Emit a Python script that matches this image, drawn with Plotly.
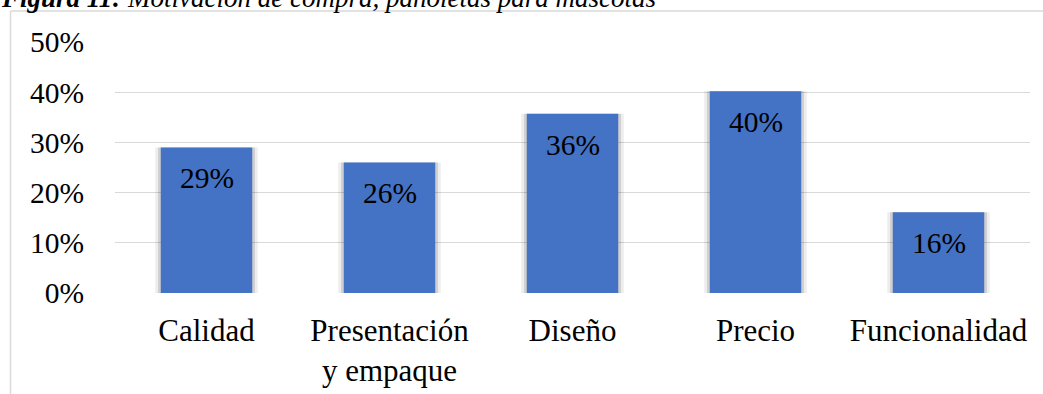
import plotly.graph_objects as go

categories = ["Calidad", "Presentación<br>y empaque", "Diseño", "Precio", "Funcionalidad"]
values = [0.29, 0.26, 0.357, 0.402, 0.161]
labels = ["29%", "26%", "36%", "40%", "16%"]
tick_vals = [0, 0.1, 0.2, 0.3, 0.4, 0.5]
tick_text = ["0%", "10%", "20%", "30%", "40%", "50%"]
title_bold = "Figura 11:"
title_rest = " Motivación de compra, pañoletas para mascotas"

FONT = "Liberation Serif, Times New Roman, serif"
W, H = 1043, 394
ML, MR, MT, MB = 115, 13, 42, 101
PW, PH = W - ML - MR, H - MT - MB

def px_x(p):
    return (p - ML) / PW

def px_y(p):
    return (H - MB - p) / PH

fig = go.Figure()
# soft shadow behind bars
fig.add_trace(go.Bar(x=categories, y=values, width=0.56,
                     marker=dict(color="rgba(0,0,0,0.07)", line=dict(width=0)),
                     hoverinfo="skip", showlegend=False))
fig.add_trace(go.Bar(x=categories, y=values, width=0.53,
                     marker=dict(color="rgba(0,0,0,0.12)", line=dict(width=0)),
                     hoverinfo="skip", showlegend=False))
fig.add_trace(go.Bar(x=categories, y=values, width=0.5,
                     marker=dict(color="#4472C4", line=dict(width=0)),
                     showlegend=False))

for c, v, t in zip(categories, values, labels):
    fig.add_annotation(x=c, y=v, xref="x", yref="y", text=t, showarrow=False,
                       yanchor="middle", yshift=-31,
                       font=dict(family=FONT, size=29.5, color="#000000"))

# caption (cut off at top)
fig.add_annotation(xref="paper", yref="paper", x=px_x(-1), y=px_y(15),
                   xanchor="left", yanchor="bottom", showarrow=False,
                   text=f"<b><i>{title_bold}</i></b><i>{title_rest}</i>",
                   font=dict(family=FONT, size=27, color="#000000"))

# chart frame (left and top edges visible)
fig.add_shape(type="line", xref="paper", yref="paper",
              x0=px_x(10.5), x1=px_x(1100), y0=px_y(11), y1=px_y(11),
              line=dict(color="#d9d9d9", width=1.5))
fig.add_shape(type="line", xref="paper", yref="paper",
              x0=px_x(10.5), x1=px_x(10.5), y0=px_y(11), y1=px_y(500),
              line=dict(color="#d9d9d9", width=1.5))

fig.update_layout(
    width=W, height=H,
    margin=dict(l=ML, r=MR, t=MT, b=MB, autoexpand=False),
    paper_bgcolor="white", plot_bgcolor="white",
    barmode="overlay",
    font=dict(family=FONT, color="#000000"),
    xaxis=dict(showline=False, showgrid=False, ticks="", automargin=False,
               ticklabelstandoff=16,
               tickfont=dict(family=FONT, size=31, color="#000000")),
    yaxis=dict(range=[0, 0.5], tickvals=tick_vals, ticktext=tick_text,
               showgrid=True, gridcolor="#d9d9d9", gridwidth=1.3,
               zeroline=False, showline=False, ticks="", automargin=False,
               ticklabelstandoff=30,
               tickfont=dict(family=FONT, size=29.5, color="#000000")),
)

fig.write_html("out.html")
